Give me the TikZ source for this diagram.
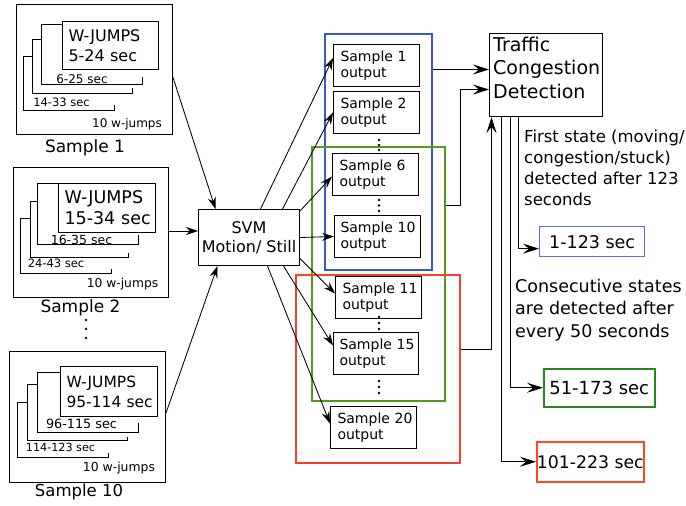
\documentclass[tikz,border=0pt]{standalone}
\usepackage{fontspec}
\setmainfont{DejaVu Sans}
\usetikzlibrary{arrows.meta}
\definecolor{gblue}{RGB}{58,88,200}
\definecolor{ggreen}{RGB}{88,150,30}
\definecolor{gred}{RGB}{255,60,40}
\definecolor{rblue}{RGB}{85,115,205}
\definecolor{rgreen}{RGB}{40,135,30}
\definecolor{rred}{RGB}{255,70,40}
\tikzset{
  bx/.style={draw, line width=1pt, anchor=north west, inner ysep=0pt},
  grp/.style={draw, line width=1.5pt, anchor=north west, inner sep=0pt},
  ln/.style={line width=0.9pt},
  arr/.style={-{Stealth[length=12pt,width=8pt,inset=4pt]}, line width=0.85pt},
  arrb/.style={-{Stealth[length=16pt,width=10pt,inset=6pt]}, line width=0.95pt},
  lbl/.style={inner sep=0pt},
  outb/.style={bx, minimum height=42pt, text width=72pt, inner xsep=7pt, align=left, font=\fontsize{14}{16.5}\selectfont},
}
\begin{document}
\begin{tikzpicture}[x=1pt,y=-1pt]
\useasboundingbox (0,0) rectangle (686,506);

% ---------- Sample 1 ----------
\node[bx, minimum width=156pt, minimum height=130pt] (s1) at (16,4) {};
\node[bx, minimum width=96pt, minimum height=48pt, text width=84pt, inner xsep=6pt, align=left, font=\fontsize{16}{20}\selectfont] (w1) at (62,21) {\mbox{W-JUMPS}\\\mbox{5-24 sec}};
\draw[ln] ([yshift=-3pt]w1.north west) -- (41,24) -- (41,84) -- (142,84) -- (142,77);
\draw[ln] (41,39) -- (32,39) -- (32,93) -- (132,93) -- (132,88);
\draw[ln] (32,56) -- (23,56) -- (23,110) -- (114,110) -- (114,105);
\node[lbl, font=\fontsize{12}{14}\selectfont] (a1) at (82,79) {6-25 sec};
\node[lbl, font=\fontsize{11.5}{14}\selectfont] (b1) at (61.5,102) {14-33 sec};
\node[lbl, font=\fontsize{12}{14}\selectfont] (c1) at (127,124) {10 w-jumps};
\node[lbl, font=\fontsize{17}{20}\selectfont] (n1) at (85,148) {Sample 1};

% ---------- Sample 2 ----------
\node[bx, minimum width=155pt, minimum height=130pt] (s2) at (13,167) {};
\node[bx, minimum width=97pt, minimum height=49pt, text width=85pt, inner xsep=6pt, align=left, font=\fontsize{17.5}{21}\selectfont] (w2) at (58,183) {\mbox{W-JUMPS}\\\mbox{15-34 sec}};
\draw[ln] (w2.north west) -- (37,183) -- (37,244) -- (138,244) -- (138,235);
\draw[ln] (37,201) -- (30,201) -- (30,257) -- (128,257) -- (128,253);
\draw[ln] (30,218) -- (20,218) -- (20,273) -- (111,273) -- (111,269);
\node[lbl, font=\fontsize{12.5}{14}\selectfont] (a2) at (81.5,240) {16-35 sec};
\node[lbl, font=\fontsize{11.5}{14}\selectfont] (b2) at (56,263) {24-43 sec};
\node[lbl, font=\fontsize{12.3}{14}\selectfont] (c2) at (122.5,284) {10 w-jumps};
\node[lbl, font=\fontsize{17}{20}\selectfont] (n2) at (80.5,308) {Sample 2};

\fill (86,320) circle (1.3) (86,329) circle (1.3) (86,338) circle (1.3);

% ---------- Sample 10 ----------
\node[bx, minimum width=156pt, minimum height=131pt] (s10) at (9,351) {};
\node[bx, minimum width=97pt, minimum height=50pt, text width=85pt, inner xsep=6pt, align=left, font=\fontsize{15.5}{20}\selectfont] (w10) at (60,366) {\mbox{W-JUMPS}\\\mbox{95-114 sec}};
\draw[ln] ([yshift=-6pt]w10.north west) -- (37,372) -- (37,432) -- (138,432) -- (138,423);
\draw[ln] (37,384) -- (27,384) -- (27,440) -- (127,440) -- (127,437);
\draw[ln] (27,402) -- (17,402) -- (17,457) -- (108,457) -- (108,453);
\node[lbl, font=\fontsize{12.8}{14}\selectfont] (a10) at (81.5,424) {96-115 sec};
\node[lbl, font=\fontsize{11.2}{14}\selectfont] (b10) at (60.5,447) {114-123 sec};
\node[lbl, font=\fontsize{12.4}{14}\selectfont] (c10) at (119,468) {10 w-jumps};
\node[lbl, font=\fontsize{16.5}{20}\selectfont] (n10) at (79,492) {Sample 10};

% ---------- SVM ----------
\node[bx, minimum width=101pt, minimum height=56pt, align=center, inner xsep=0pt, font=\fontsize{16}{19}\selectfont] (svm) at (198,209) {SVM\\Motion/ Still};

% ---------- groups ----------
\node[grp, draw=gblue, minimum width=107pt, minimum height=236pt] (blue) at (324,33) {};
\node[grp, draw=ggreen, minimum width=133pt, minimum height=254pt] (green) at (311,146) {};
\node[grp, draw=gred, minimum width=164pt, minimum height=188pt] (red) at (295,274) {};

% ---------- outputs ----------
\node[outb] (o1) at (333,44) {Sample~1\\output};
\node[outb] (o2) at (333,91) {Sample~2\\output};
\node[outb] (o6) at (332,153) {Sample~6\\output};
\node[outb, inner xsep=6pt, text width=74pt] (o10) at (334,215) {Sample~10\\output};
\node[outb] (o11) at (335,276) {Sample~11\\output};
\node[outb, inner xsep=6pt, text width=73pt] (o15) at (333,332) {Sample~15\\output};
\node[outb] (o20) at (330,406) {Sample~20\\output};

\fill (379,140) circle (1.3) (379,145) circle (1.3) (379,150) circle (1.3);
\fill (379,200) circle (1.3) (379,205.5) circle (1.3) (379,211) circle (1.3);
\fill (379,317) circle (1.3) (379,323) circle (1.3) (379,329) circle (1.3);
\fill (379,381) circle (1.3) (379,387) circle (1.3) (379,393) circle (1.3);

% ---------- detection ----------
\node[bx, minimum width=113pt, minimum height=83pt] (tcd) at (489,33) {};
\node[anchor=north west, inner sep=0pt, align=left, font=\fontsize{19}{23.5}\selectfont] (tcdt) at (493,36.5) {Traffic\\Congestion\\Detection};

\node[bx, draw=rblue, line width=1.3pt, minimum width=105pt, minimum height=30pt, inner xsep=0pt, font=\fontsize{17.5}{20}\selectfont] (r1) at (539,226) {1-123 sec};
\node[bx, draw=rgreen, line width=1.5pt, minimum width=111pt, minimum height=38pt, inner xsep=0pt, font=\fontsize{18}{20}\selectfont] (r2) at (543,368) {51-173 sec};
\node[bx, draw=rred, line width=1.5pt, minimum width=107pt, minimum height=40pt, inner xsep=0pt, font=\fontsize{17.3}{20}\selectfont] (r3) at (536,441) {101-223 sec};

\node[anchor=west, inner sep=0pt, align=left, font=\fontsize{16.5}{21}\selectfont] (ft) at (524,168) {First state (moving/\\congestion/stuck)\\detected after 123\\seconds};
\node[anchor=west, inner sep=0pt, align=left, font=\fontsize{17.5}{22.5}\selectfont] (ct) at (515,310) {Consecutive states\\are detected after\\every 50 seconds};

% ---------- connectors ----------
\draw[arr] ([yshift=-8pt]s1.east) -- ([xshift=-33.5pt]svm.north);
\draw[arr] (s2.east |- 0,231) -- (svm.west |- 0,231);
\draw[arr] ([yshift=4pt]s10.east) -- ([xshift=-31.5pt]svm.south);

\draw[arr] ([xshift=11.5pt]svm.north) -- ([yshift=7.5pt]o1.west);
\draw[arr] ([xshift=33.5pt]svm.north) -- (o2.west);
\draw[arr] ([yshift=-2pt]svm.north east) -- ([yshift=-2pt]o6.west);
\draw[arr] (svm.east) -- (o10.west);
\draw[arr] ([yshift=-21pt]svm.east) -- ([yshift=4pt]o11.west);
\draw[arr] ([xshift=34.5pt]svm.south) -- ([yshift=8pt]o15.west);
\draw[arr] ([xshift=18.5pt]svm.south) -- ([yshift=4pt]o20.west);

\coordinate (t1) at ([yshift=5.5pt]tcd.west);
\coordinate (t2) at ([yshift=-14.5pt]tcd.west);
\draw[arrb] (blue.east |- t1) -- (t1);
\draw[arrb] ([yshift=68pt]green.east) -- ++(15,0) |- (t2);
\draw[arrb] ([yshift=19pt]red.east) -| ([xshift=-54.5pt]tcd.south);

\draw[arrb] ([xshift=-27.5pt]tcd.south) |- ([yshift=-7pt]r1.west);
\draw[arrb] ([xshift=-35.5pt]tcd.south) |- (r2.west);
\draw[arrb] ([xshift=-44.5pt]tcd.south) |- (r3.west);
\end{tikzpicture}
\end{document}
